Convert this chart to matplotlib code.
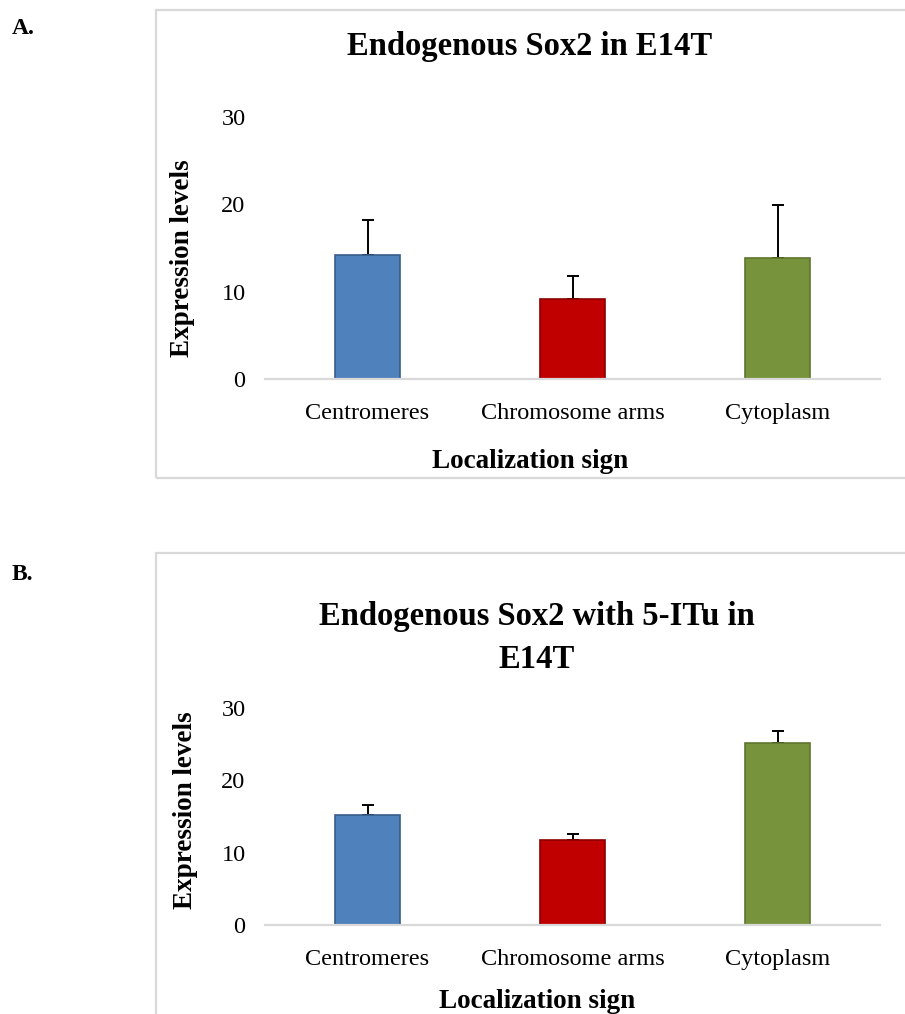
import numpy as np
import matplotlib; matplotlib.use('Agg')
import matplotlib.pyplot as plt
from matplotlib.patches import Rectangle

plt.rcParams['font.family'] = ['Liberation Serif', 'DejaVu Serif']

categories = ['Centromeres', 'Chromosome arms', 'Cytoplasm']
# panel A: endogenous Sox2 in E14T
vals_a = [14.2, 9.2, 13.9]
err_a = [4.0, 2.55, 6.0]
# panel B: with 5-ITu
vals_b = [15.2, 11.7, 25.2]
err_b = [1.35, 0.88, 1.57]
yticks = [0, 10, 20, 30]

colors = ['#4F81BD', '#C00000', '#77933C']
edges = ['#385D8A', '#8C0000', '#5E7530']
grey = '#D9D9D9'

W, H = 905, 1014
fig = plt.figure(figsize=(W / 100, H / 100), dpi=100)

def fx(px): return px / W
def fy(py): return 1 - py / H

# panel borders (figure level)
fig.patches.append(Rectangle((fx(156), fy(478)), fx(800), fy(10) - fy(478),
                             transform=fig.transFigure, fill=False, ec=grey, lw=1.6))
fig.patches.append(Rectangle((fx(156), fy(1100)), fx(800), fy(553) - fy(1100),
                             transform=fig.transFigure, fill=False, ec=grey, lw=1.6))

def panel(top, bottom, vals, errs):
    ax = fig.add_axes([fx(265), fy(bottom), fx(880) - fx(265), fy(top) - fy(bottom)])
    x = np.arange(len(categories))
    ax.bar(x, vals, 0.32, color=colors, edgecolor=edges, lw=1.2, zorder=2)
    ax.errorbar(x, vals, yerr=[np.zeros(len(vals)), errs], fmt='none',
                ecolor='black', elinewidth=1.4, capsize=4.5, capthick=1.4, zorder=1)
    ax.set_xlim(-0.5, 2.5); ax.set_ylim(0, 30)
    ax.set_yticks(yticks); ax.set_xticks(x)
    ax.set_xticklabels(categories, fontsize=17.5)
    ax.tick_params(axis='y', length=0, labelsize=17.5, pad=14)
    ax.tick_params(axis='x', length=0, pad=17)
    for s in ['top', 'right', 'left']:
        ax.spines[s].set_visible(False)
    ax.spines['bottom'].set_color(grey); ax.spines['bottom'].set_linewidth(1.6)
    ax.set_facecolor('none')
    return ax

panel(117, 379, vals_a, err_a)
panel(708, 925, vals_b, err_b)

# titles and labels
fig.text(fx(530), fy(47), 'Endogenous Sox2 in E14T', ha='center', va='center',
         fontsize=23.5, fontweight='bold')
fig.text(fx(537), fy(617), 'Endogenous Sox2 with 5-ITu in', ha='center', va='center',
         fontsize=23.5, fontweight='bold')
fig.text(fx(537), fy(660), 'E14T', ha='center', va='center', fontsize=23.5, fontweight='bold')
fig.text(fx(182), fy(258), 'Expression levels', rotation=90, ha='center', va='center',
         fontsize=19.5, fontweight='bold')
fig.text(fx(185), fy(810), 'Expression levels', rotation=90, ha='center', va='center',
         fontsize=19.5, fontweight='bold')
fig.text(fx(530), fy(461), 'Localization sign', ha='center', va='center',
         fontsize=19.5, fontweight='bold')
fig.text(fx(537), fy(1001), 'Localization sign', ha='center', va='center',
         fontsize=19.5, fontweight='bold')
fig.text(fx(12), fy(28), 'A.', ha='left', va='center', fontsize=17, fontweight='bold')
fig.text(fx(12), fy(574), 'B.', ha='left', va='center', fontsize=17, fontweight='bold')

fig.savefig('out.png', dpi=100)
